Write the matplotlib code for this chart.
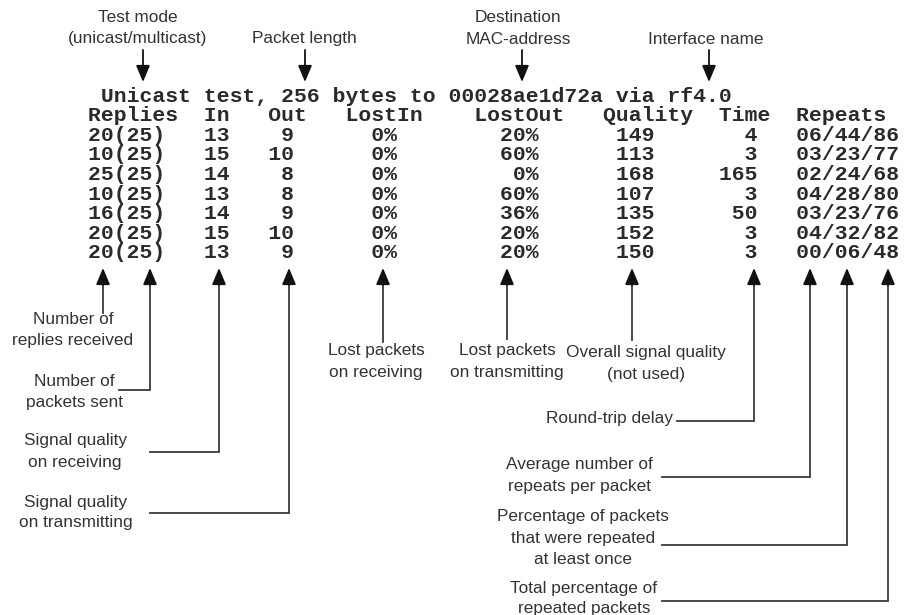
import matplotlib
matplotlib.use('Agg')
import matplotlib.pyplot as plt

# ping output shown in the picture
title_line = " Unicast test, 256 bytes to 00028ae1d72a via rf4.0"
header = "Replies  In   Out   LostIn    LostOut   Quality  Time  Repeats"
replies = [20, 10, 25, 10, 16, 20, 20]
sent = [25, 25, 25, 25, 25, 25, 25]
sig_in = [13, 15, 14, 13, 14, 15, 13]
sig_out = [9, 10, 8, 8, 9, 10, 9]
lost_in = [0, 0, 0, 0, 0, 0, 0]
lost_out = [20, 60, 0, 60, 36, 20, 20]
quality = [149, 113, 168, 107, 135, 152, 150]
rtt = [4, 3, 165, 3, 50, 3, 3]
rep_avg = [6, 3, 2, 4, 3, 4, 0]
rep_once = [44, 23, 24, 28, 23, 32, 6]
rep_total = [86, 77, 68, 80, 76, 82, 48]

top_labels = ["Test mode\n(unicast/multicast)", "Packet length",
              "Destination\nMAC-address", "Interface name"]
bottom_labels = ["Number of\nreplies received", "Number of\npackets sent",
                 "Signal quality\non receiving", "Signal quality\non transmitting",
                 "Lost packets\non receiving", "Lost packets\non transmitting",
                 "Overall signal quality\n(not used)", "Round-trip delay",
                 "Average number of\nrepeats per packet",
                 "Percentage of packets\nthat were repeated\nat least once",
                 "Total percentage of\nrepeated packets"]

rows = [title_line, header]
for i in range(len(replies)):
    rows.append(f"{replies[i]}({sent[i]})   {sig_in[i]:>2}{sig_out[i]:>5}"
                f"{lost_in[i]:>7}%{lost_out[i]:>10}%{quality[i]:>9}{rtt[i]:>8}"
                f"   {rep_avg[i]:02d}/{rep_once[i]:02d}/{rep_total[i]:02d}")

fig = plt.figure(figsize=(9.08, 6.15), dpi=100)
ax = fig.add_axes([0, 0, 1, 1])
ax.set_xlim(0, 908)
ax.set_ylim(615, 0)
ax.axis('off')

sans = 'Liberation Sans'
line_col = '#3a3a3a'
txt_col = '#333333'


def put_label(text, x, y, ha='center'):
    for k, ln in enumerate(text.split('\n')):
        ax.text(x, y + k * 21, ln, family=sans, fontsize=12.4, color=txt_col,
                ha=ha, va='center')


def arrow(x, y0, y1):
    ax.annotate('', xy=(x, y1), xytext=(x, y0),
                arrowprops=dict(arrowstyle='-|>,head_length=1.0,head_width=0.42',
                                color='#111111', lw=1.3, shrinkA=0, shrinkB=0))


# table text
char_w = 12.8
fs_mono = char_w / 0.6 / (100 / 72)
for k, r in enumerate(rows):
    ax.text(88, 96 + k * 19.6, r, family='Liberation Mono', weight='bold',
            fontsize=fs_mono, color='#2a2a2a', ha='left', va='center')

# top callouts
top_pos = [(138, 18, 143), (304, 39, 305), (518, 18, 522), (706, 39, 709)]
for lab, (tx, ty, ax_x) in zip(top_labels, top_pos):
    put_label(lab, tx, ty)
    arrow(ax_x, 50, 82)

# bottom callouts: arrow x, end y, elbow end x, text x, text y, ha
bot_pos = [(103, 313, None, 73, 320, 'center'),
           (150, 390, 119, 74, 382, 'center'),
           (219, 452, 150, 75, 441, 'center'),
           (289, 513, 150, 76, 502, 'center'),
           (383, 342, None, 376, 351, 'center'),
           (507, 339, None, 507, 351, 'center'),
           (632, 340, None, 646, 353, 'center'),
           (754, 421, 677, 673, 419, 'right'),
           (810, 477, 662, 579, 465, 'center'),
           (847, 545, 662, 583, 517, 'center'),
           (888, 601, 662, 584, 588, 'center')]
for lab, (x, ye, xe, tx, ty, ha) in zip(bottom_labels, bot_pos):
    arrow(x, 285, 268)
    xs, ys = [x, x], [282, ye]
    if xe is not None:
        xs.append(xe)
        ys.append(ye)
    ax.plot(xs, ys, color=line_col, lw=1.3, solid_joinstyle='miter')
    put_label(lab, tx, ty, ha)

fig.savefig('out.png', dpi=100, facecolor='white')
